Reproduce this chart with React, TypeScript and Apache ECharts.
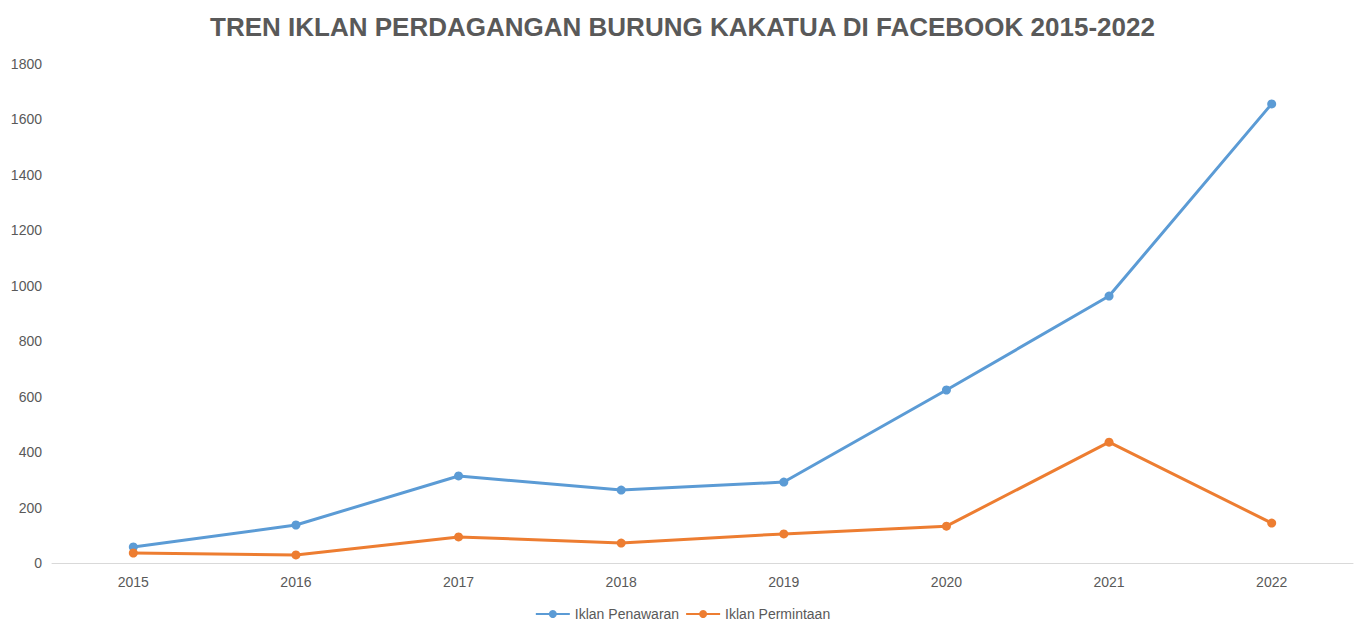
import React, { useEffect, useRef } from "react";
import * as echarts from "echarts";

const categories = ["2015", "2016", "2017", "2018", "2019", "2020", "2021", "2022"];
const penawaran = [58, 137, 314, 263, 292, 624, 963, 1656];
const permintaan = [36, 29, 94, 72, 105, 133, 436, 144];
const titleText = "TREN IKLAN PERDAGANGAN BURUNG KAKATUA DI FACEBOOK 2015-2022";

export default function App() {
  const ref = useRef<HTMLDivElement>(null);
  useEffect(() => {
    const chart = echarts.init(ref.current!, null, { renderer: "svg" });
    const font = "'Liberation Sans', Arial, Helvetica, sans-serif";
    chart.setOption({
      animation: false,
      backgroundColor: "#ffffff",
      textStyle: { fontFamily: font },
      title: {
        text: titleText,
        left: "center",
        top: 9,
        textStyle: { fontSize: 26, fontWeight: "bold", color: "#595959", fontFamily: font },
      },
      legend: {
        bottom: 8,
        left: "center",
        itemWidth: 34,
        itemHeight: 10,
        itemGap: 6,
        textStyle: { fontSize: 14, color: "#595959", fontFamily: font },
        data: ["Iklan Penawaran", "Iklan Permintaan"],
      },
      grid: { left: 52, right: 12, top: 64, bottom: 71 },
      xAxis: {
        type: "category",
        data: categories,
        boundaryGap: true,
        axisLine: { lineStyle: { color: "#d9d9d9", width: 1 } },
        axisTick: { show: false },
        axisLabel: { color: "#595959", fontSize: 14, margin: 12, fontFamily: font },
      },
      yAxis: {
        type: "value",
        min: 0,
        max: 1800,
        interval: 200,
        splitLine: { show: false },
        axisLine: { show: false },
        axisTick: { show: false },
        axisLabel: {
          color: "#595959",
          fontSize: 14,
          margin: 10,
          fontFamily: font,
          formatter: (v: number) => String(v),
        },
      },
      series: [
        {
          name: "Iklan Penawaran",
          type: "line",
          data: penawaran,
          symbol: "circle",
          symbolSize: 9,
          lineStyle: { width: 3, color: "#5B9BD5" },
          itemStyle: { color: "#5B9BD5" },
        },
        {
          name: "Iklan Permintaan",
          type: "line",
          data: permintaan,
          symbol: "circle",
          symbolSize: 9,
          lineStyle: { width: 3, color: "#ED7D31" },
          itemStyle: { color: "#ED7D31" },
        },
      ],
    });
    return () => chart.dispose();
  }, []);
  return <div ref={ref} style={{ width: 1365, height: 634, margin: -8 }} />;
}
